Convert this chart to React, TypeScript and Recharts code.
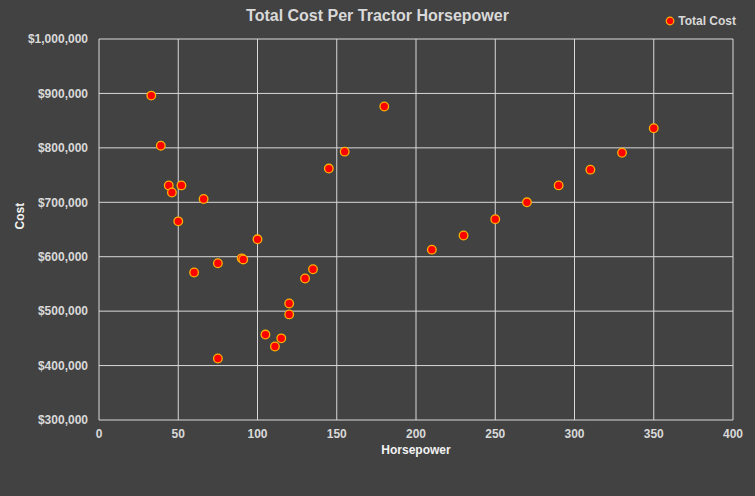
import { ScatterChart, Scatter, XAxis, YAxis, CartesianGrid } from 'recharts';

const horsepower = [33, 39, 44, 46, 50, 52, 60, 66, 75, 75, 90, 91, 100, 105, 111, 115, 120, 120, 130, 135, 145, 155, 180, 210, 230, 250, 270, 290, 310, 330, 350];
const totalCost = [896000, 804000, 731000, 718000, 665000, 731000, 571000, 706000, 588000, 413000, 597000, 595000, 632000, 457000, 435000, 450000, 514000, 494000, 560000, 577000, 762000, 793000, 876000, 613000, 639000, 669000, 700000, 731000, 760000, 791000, 836000];
const xTicks = [0, 50, 100, 150, 200, 250, 300, 350, 400];
const yTicks = [300000, 400000, 500000, 600000, 700000, 800000, 900000, 1000000];

const data = horsepower.map((hp, i) => ({ hp, cost: totalCost[i] }));

const FONT = '"Liberation Sans", Arial, sans-serif';
const TICK = { fill: '#d9d9d9', fontSize: 12, fontWeight: 700, fontFamily: FONT };

const Dot = (props: any) => (
  <circle cx={props.cx} cy={props.cy} r={4.3} fill="#ff0000" stroke="#ffb000" strokeWidth={1.3} />
);

export default function App() {
  return (
    <div style={{ position: 'absolute', left: 0, top: 0, width: 755, height: 496, background: '#424242' }}>
      <div style={{ position: 'absolute', left: 0, top: 7, width: 755, textAlign: 'center', fontFamily: FONT, fontWeight: 700, fontSize: 16, color: '#d9d9d9' }}>
        Total Cost Per Tractor Horsepower
      </div>
      {/* legend */}
      <div style={{ position: 'absolute', right: 19, top: 14, display: 'flex', alignItems: 'center', fontFamily: FONT, fontWeight: 700, fontSize: 12, color: '#d9d9d9' }}>
        <svg width={10} height={10} style={{ marginRight: 3 }}>
          <circle cx={5} cy={5} r={3.8} fill="#ff0000" stroke="#ffb000" strokeWidth={1.2} />
        </svg>
        Total Cost
      </div>
      <ScatterChart width={755} height={496} margin={{ top: 39, right: 22, left: 0, bottom: 46 }}>
        <CartesianGrid stroke="#d9d9d9" strokeWidth={1} />
        <XAxis
          type="number"
          dataKey="hp"
          domain={[0, 400]}
          ticks={xTicks}
          axisLine={false}
          tickLine={false}
          tickSize={6}
          tickMargin={3}
          tick={TICK}
          height={30}
          label={{ value: 'Horsepower', position: 'insideBottom', offset: -4, fill: '#f2f2f2', fontSize: 12, fontWeight: 700, fontFamily: FONT }}
        />
        <YAxis
          type="number"
          dataKey="cost"
          domain={[300000, 1000000]}
          ticks={yTicks}
          axisLine={false}
          tickLine={false}
          tickSize={6}
          tickMargin={5}
          width={99}
          tick={TICK}
          tickFormatter={(v: number) => '$' + v.toLocaleString('en-US')}
          label={{ value: 'Cost', angle: -90, position: 'insideLeft', offset: 20, fill: '#f2f2f2', fontSize: 12, fontWeight: 700, fontFamily: FONT }}
        />
        <Scatter name="Total Cost" data={data} shape={Dot} isAnimationActive={false} />
      </ScatterChart>
    </div>
  );
}
